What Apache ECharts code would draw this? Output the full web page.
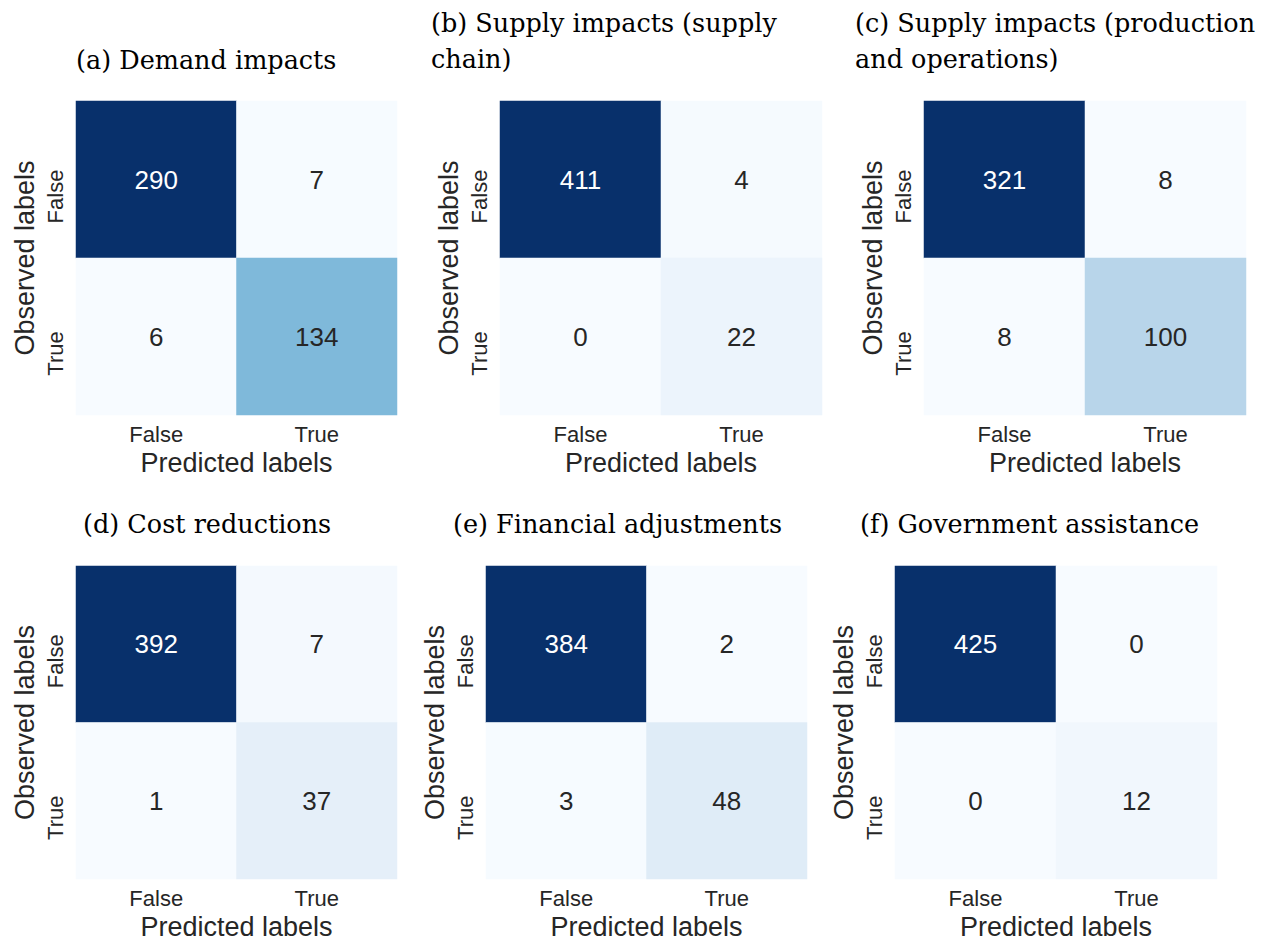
<!DOCTYPE html>
<html>
<head>
<meta charset="utf-8">
<script src="https://cdn.jsdelivr.net/npm/echarts@6/dist/echarts.min.js"></script>
<style>
html,body{margin:0;padding:0;background:#fff;}
#chart{width:1265px;height:941px;}
</style>
</head>
<body>
<div id="chart"></div>
<script>
// ---- data ----
const predictedLabels = ['False', 'True'];
const observedLabels = ['False', 'True'];
const panelTitles = [
  '(a) Demand impacts',
  '(b) Supply impacts (supply\nchain)',
  '(c) Supply impacts (production\nand operations)',
  '(d) Cost reductions',
  '(e) Financial adjustments',
  '(f) Government assistance'
];
// rows = observed (False, True), cols = predicted (False, True)
const demandImpacts = [[290, 7], [6, 134]];
const supplyChain = [[411, 4], [0, 22]];
const productionOps = [[321, 8], [8, 100]];
const costReductions = [[392, 7], [1, 37]];
const financialAdj = [[384, 2], [3, 48]];
const governmentAssist = [[425, 0], [0, 12]];
const matrices = [demandImpacts, supplyChain, productionOps, costReductions, financialAdj, governmentAssist];

// ---- layout (positions / styles) ----
const grids = [
  {left: 76, top: 101, width: 321, height: 314},
  {left: 500, top: 101, width: 322, height: 314},
  {left: 924, top: 101, width: 322, height: 314},
  {left: 76, top: 566, width: 321, height: 313},
  {left: 486, top: 566, width: 321, height: 313},
  {left: 895, top: 566, width: 322, height: 313}
];
const titlePos = [
  {x: 76, y: 60}, {x: 431, y: 41}, {x: 855, y: 41},
  {x: 83, y: 524}, {x: 453, y: 524}, {x: 860, y: 524}
];
const blues = ['#f7fbff', '#deebf7', '#c6dbef', '#9ecae1', '#6baed6', '#4292c6', '#2171b5', '#08519c', '#08306b'];
const SANS = '"Liberation Sans", Arial, sans-serif';
const SERIF = '"DejaVu Serif", serif';
const TXT = '#262626';

const option = {
  backgroundColor: '#ffffff',
  animation: false,
  grid: grids.map(g => Object.assign({containLabel: false}, g)),
  xAxis: grids.map((g, i) => ({
    type: 'category', gridIndex: i, data: predictedLabels,
    axisLine: {show: false}, axisTick: {show: false}, splitLine: {show: false},
    axisLabel: {fontSize: 22, color: TXT, fontFamily: SANS, margin: 8},
    name: 'Predicted labels', nameLocation: 'middle', nameGap: 34,
    nameTextStyle: {fontSize: 27, color: TXT, fontFamily: SANS}
  })),
  yAxis: grids.map((g, i) => ({
    type: 'category', gridIndex: i, data: observedLabels, inverse: true,
    axisLine: {show: false}, axisTick: {show: false}, splitLine: {show: false},
    axisLabel: {fontSize: 22, color: TXT, fontFamily: SANS, margin: 10, rotate: 90, padding: [0, 34, 0, 0]},
    name: 'Observed labels', nameLocation: 'middle', nameGap: 38, nameRotate: 90,
    nameTextStyle: {fontSize: 27, color: TXT, fontFamily: SANS}
  })),
  visualMap: matrices.map((m, i) => {
    const flat = m.flat();
    return {
      type: 'continuous', show: false, seriesIndex: i, dimension: 2,
      min: Math.min(...flat), max: Math.max(...flat),
      inRange: {color: blues}
    };
  }),
  series: matrices.map((m, i) => {
    const flat = m.flat();
    const mn = Math.min(...flat), mx = Math.max(...flat);
    const data = [];
    m.forEach((row, r) => row.forEach((v, c) => {
      const t = (v - mn) / (mx - mn || 1);
      data.push({value: [c, r, v], label: {color: t > 0.55 ? '#ffffff' : TXT}});
    }));
    return {
      type: 'heatmap', xAxisIndex: i, yAxisIndex: i, data: data,
      label: {show: true, formatter: p => String(p.value[2]), fontSize: 26, fontFamily: SANS},
      itemStyle: {borderWidth: 0},
      emphasis: {disabled: true}
    };
  }),
  graphic: panelTitles.map((t, i) => ({
    type: 'text', x: titlePos[i].x, y: titlePos[i].y, silent: true,
    style: {text: t, fill: '#000', font: '25.5px ' + SERIF, lineHeight: 36, verticalAlign: 'middle', align: 'left'}
  }))
};

const chart = echarts.init(document.getElementById('chart'), null, {renderer: 'svg'});
chart.setOption(option);
</script>
</body>
</html>
